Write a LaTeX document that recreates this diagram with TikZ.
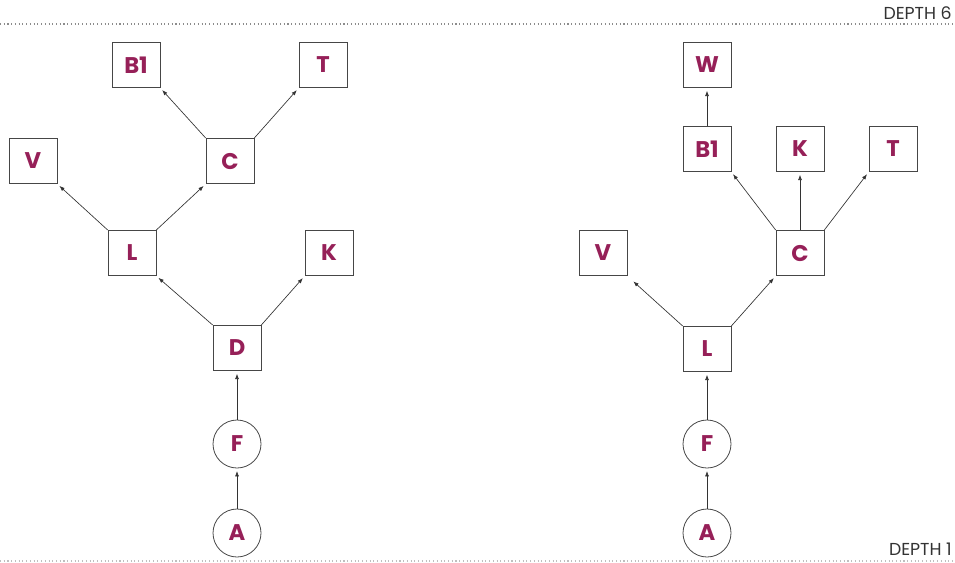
\documentclass[tikz,border=0pt]{standalone}
\usepackage{fontspec}
\setmainfont{Poppins}
\usepackage{tikz}
\usetikzlibrary{arrows.meta,positioning}
\definecolor{nodetext}{RGB}{150,32,88}
\definecolor{framegray}{RGB}{70,70,70}

\begin{document}
\begin{tikzpicture}[
    x=0.75pt, y=-0.75pt,
    box/.style={rectangle, draw=framegray, line width=0.6pt, text=nodetext,
                font=\fontsize{17}{17}\selectfont\bfseries,
                minimum width=36pt, minimum height=34pt, inner sep=0pt},
    vertex/.style={circle, draw=framegray, line width=0.6pt, text=nodetext,
                font=\fontsize{17}{17}\selectfont\bfseries,
                minimum size=36pt, inner sep=0pt},
    arrow/.style={-{Latex[length=4pt,width=3pt]}, line width=0.5pt,
                  draw=black!80, shorten >=2pt},
    depth/.style={font=\fontsize{13}{13}\selectfont, text=black!80,
                  anchor=east, inner sep=0pt}
]
\useasboundingbox (0,0) rectangle (955,562);

% Depth markers
\draw[black!45, dotted, line width=0.8pt] (0,24) -- (955,24);
\draw[black!25, dotted, line width=0.8pt] (0,561) -- (955,561);
\node[depth] (d6) at (952,13) {DEPTH 6};
\node[depth] (d1) at (952,549) {DEPTH 1};

% Left tree
\node[vertex] (lA) at (237,533) {A};
\node[vertex] (lF) at (237,444) {F};
\node[box] (lD) at (237,348) {D};
\node[box] (lL) at (132,253) {L};
\node[box] (lK) at (329,253) {K};
\node[box] (lV) at (33,161) {V};
\node[box] (lC) at (230,161) {C};
\node[box] (lB) at (136,65) {B1};
\node[box] (lT) at (323,65) {T};

\draw[arrow] (lA) -- (lF);
\draw[arrow] (lF) -- (lD);
\draw[arrow] (lD.north west) -- (lL.south east);
\draw[arrow] (lD.north east) -- (lK.south west);
\draw[arrow] (lL.north west) -- (lV.south east);
\draw[arrow] (lL.north east) -- (lC.south west);
\draw[arrow] (lC.north west) -- (lB.south east);
\draw[arrow] (lC.north east) -- (lT.south west);

% Right tree
\node[vertex] (rA) at (707,533) {A};
\node[vertex] (rF) at (707,444) {F};
\node[box] (rL) at (707,349) {L};
\node[box] (rV) at (603,253) {V};
\node[box] (rC) at (800,253) {C};
\node[box] (rB) at (707,149) {B1};
\node[box] (rK) at (800,149) {K};
\node[box] (rT) at (893,149) {T};
\node[box] (rW) at (707,65) {W};

\draw[arrow] (rA) -- (rF);
\draw[arrow] (rF) -- (rL);
\draw[arrow, shorten >=6pt] (rL.north west) -- (rV.south east);
\draw[arrow] (rL.north east) -- (rC.south west);
\draw[arrow] (rC.north west) -- (rB.south east);
\draw[arrow] (rC.north) -- (rK.south);
\draw[arrow] (rC.north east) -- (rT.south west);
\draw[arrow] (rB) -- (rW);

\end{tikzpicture}
\end{document}
